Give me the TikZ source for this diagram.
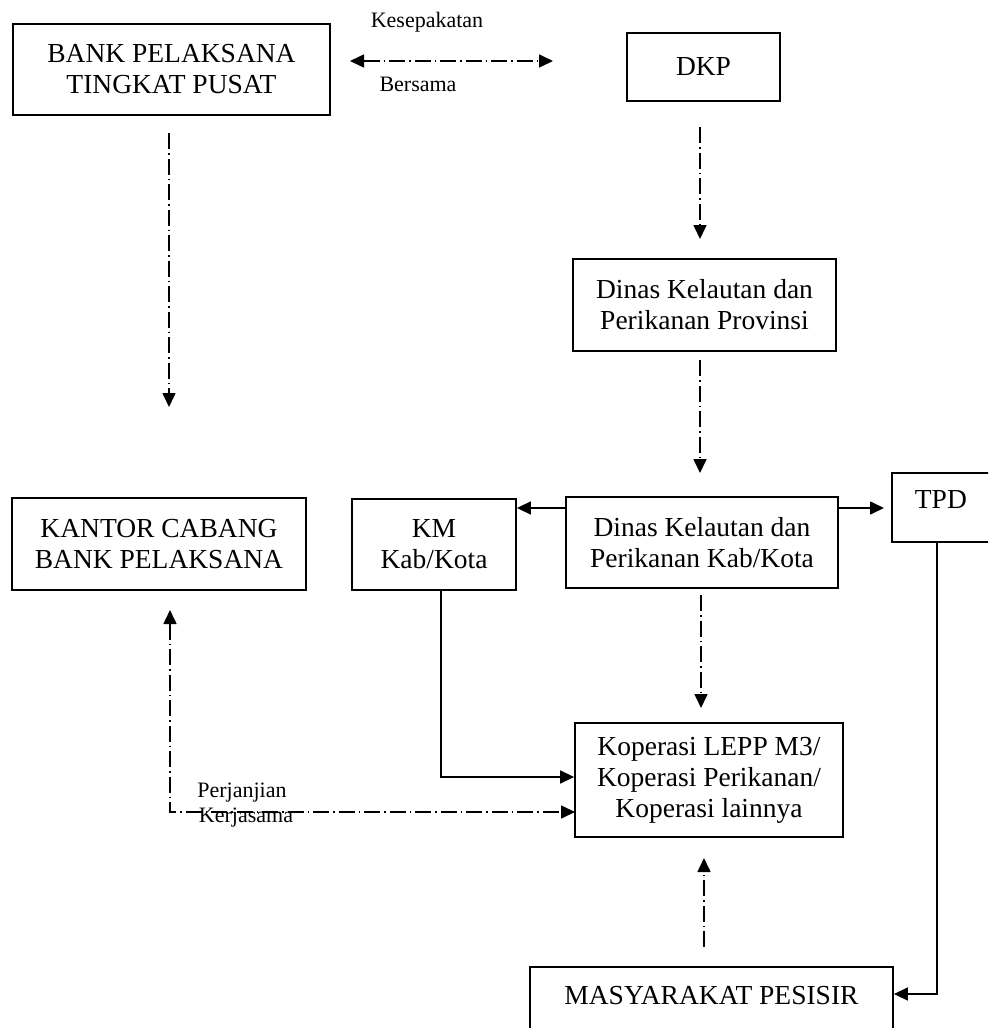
\documentclass[tikz,border=0pt]{standalone}
\usepackage{fontspec}
\setmainfont{Liberation Serif}
\usetikzlibrary{arrows.meta}
\begin{document}
\begin{tikzpicture}[x=1pt,y=-1pt,
  box/.style={draw,line width=1.8pt,inner sep=0pt,align=center,font=\fontsize{27.5}{31}\selectfont},
  openbox/.style={box,draw=none},
  edge/.style={line width=1.8pt},
  lbl/.style={inner sep=0pt,font=\fontsize{22}{24}\selectfont},
  dd/.style={line width=1.6pt,dash pattern=on 16pt off 4pt on 1.5pt off 4pt},
  sl/.style={line width=1.6pt},
  tip/.style={-{Triangle[length=14pt,width=13pt]}},
  tips/.style={{Triangle[length=14pt,width=13pt]}-{Triangle[length=14pt,width=13pt]}}]
\useasboundingbox (0,0) rectangle (988,1028);
\fill[white] (0,0) rectangle (988,1028);
\clip (0,0) rectangle (988,1028);

% boxes
\node[box,minimum width=317pt,minimum height=91pt] (bank) at (171.5,69.5) {BANK PELAKSANA\\TINGKAT PUSAT};
\node[box,minimum width=153pt,minimum height=68pt] (dkp) at (703.5,67) {DKP};
\node[box,minimum width=263pt,minimum height=92pt] (prov) at (704.5,305) {Dinas Kelautan dan\\Perikanan Provinsi};
\node[box,minimum width=294pt,minimum height=92pt] (kantor) at (159,544) {KANTOR CABANG\\BANK PELAKSANA};
\node[box,minimum width=164pt,minimum height=91pt] (km) at (434,544.5) {KM\\Kab/Kota};
\node[box,minimum width=272pt,minimum height=91pt] (kab) at (702,542.5) {Dinas Kelautan dan\\Perikanan Kab/Kota};
\node[openbox,minimum width=140pt,text height=35pt,text depth=32pt,anchor=north west] (tpd) at (892,473) {TPD\hspace{44pt}};
\draw[edge] (tpd.north east) -- (tpd.north west) -- (tpd.south west) -- (tpd.south east);
\node[box,minimum width=268pt,minimum height=114pt] (kop) at (709,780) {Koperasi LEPP M3/\\Koperasi Perikanan/\\Koperasi lainnya};
\node[openbox,minimum width=361pt,text height=37pt,text depth=50pt,anchor=north] (mas) at (711.5,967) {MASYARAKAT PESISIR};
\draw[edge] (mas.south west) -- (mas.north west) -- (mas.north east) -- (mas.south east);

% labels
\node[lbl] (kes) at (427,22) {Kesepakatan};
\node[lbl] (ber) at (418,84) {Bersama};
\node[lbl] (per) at (242,793) {Perjanjian};
\node[lbl] (ker) at (246,818) {Kerjasama};

% free ends of dash-dot connectors
\coordinate (a1) at (350,61);
\coordinate (a2) at (553,61);
\coordinate (b1) at (169,133);
\coordinate (b2) at (169,407);
\coordinate (c1) at (700,127);
\coordinate (c2) at (700,239);
\coordinate (d1) at (700,360);
\coordinate (d2) at (700,473);
\coordinate (e1) at (701,595);
\coordinate (e2) at (701,708);
\coordinate (f1) at (170,610);
\coordinate (f2) at (575,812);
\coordinate (g1) at (704,947);
\coordinate (g2) at (704,858);

% dash-dot connectors
\draw[dd,tips] (a1) -- (a2);
\draw[dd,tip] (b1) -- (b2);
\draw[dd,tip] (c1) -- (c2);
\draw[dd,tip] (d1) -- (d2);
\draw[dd,tip] (e1) -- (e2);
\draw[dd,tips] (f1) |- (f2);
\draw[dd,tip] (g1) -- (g2);

% solid connectors
\draw[sl,tip] (kab.west |- 0,508) -- (km.east |- 0,508);
\draw[sl,tip] (kab.east |- 0,508) -- ([xshift=-8pt]tpd.west |- 0,508);
\draw[sl,tip] (441,590) |- (kop.west |- 0,777);
\draw[sl,tip] (tpd.south -| 937,0) |- ([xshift=1pt]mas.east |- 0,994);
\end{tikzpicture}
\end{document}
